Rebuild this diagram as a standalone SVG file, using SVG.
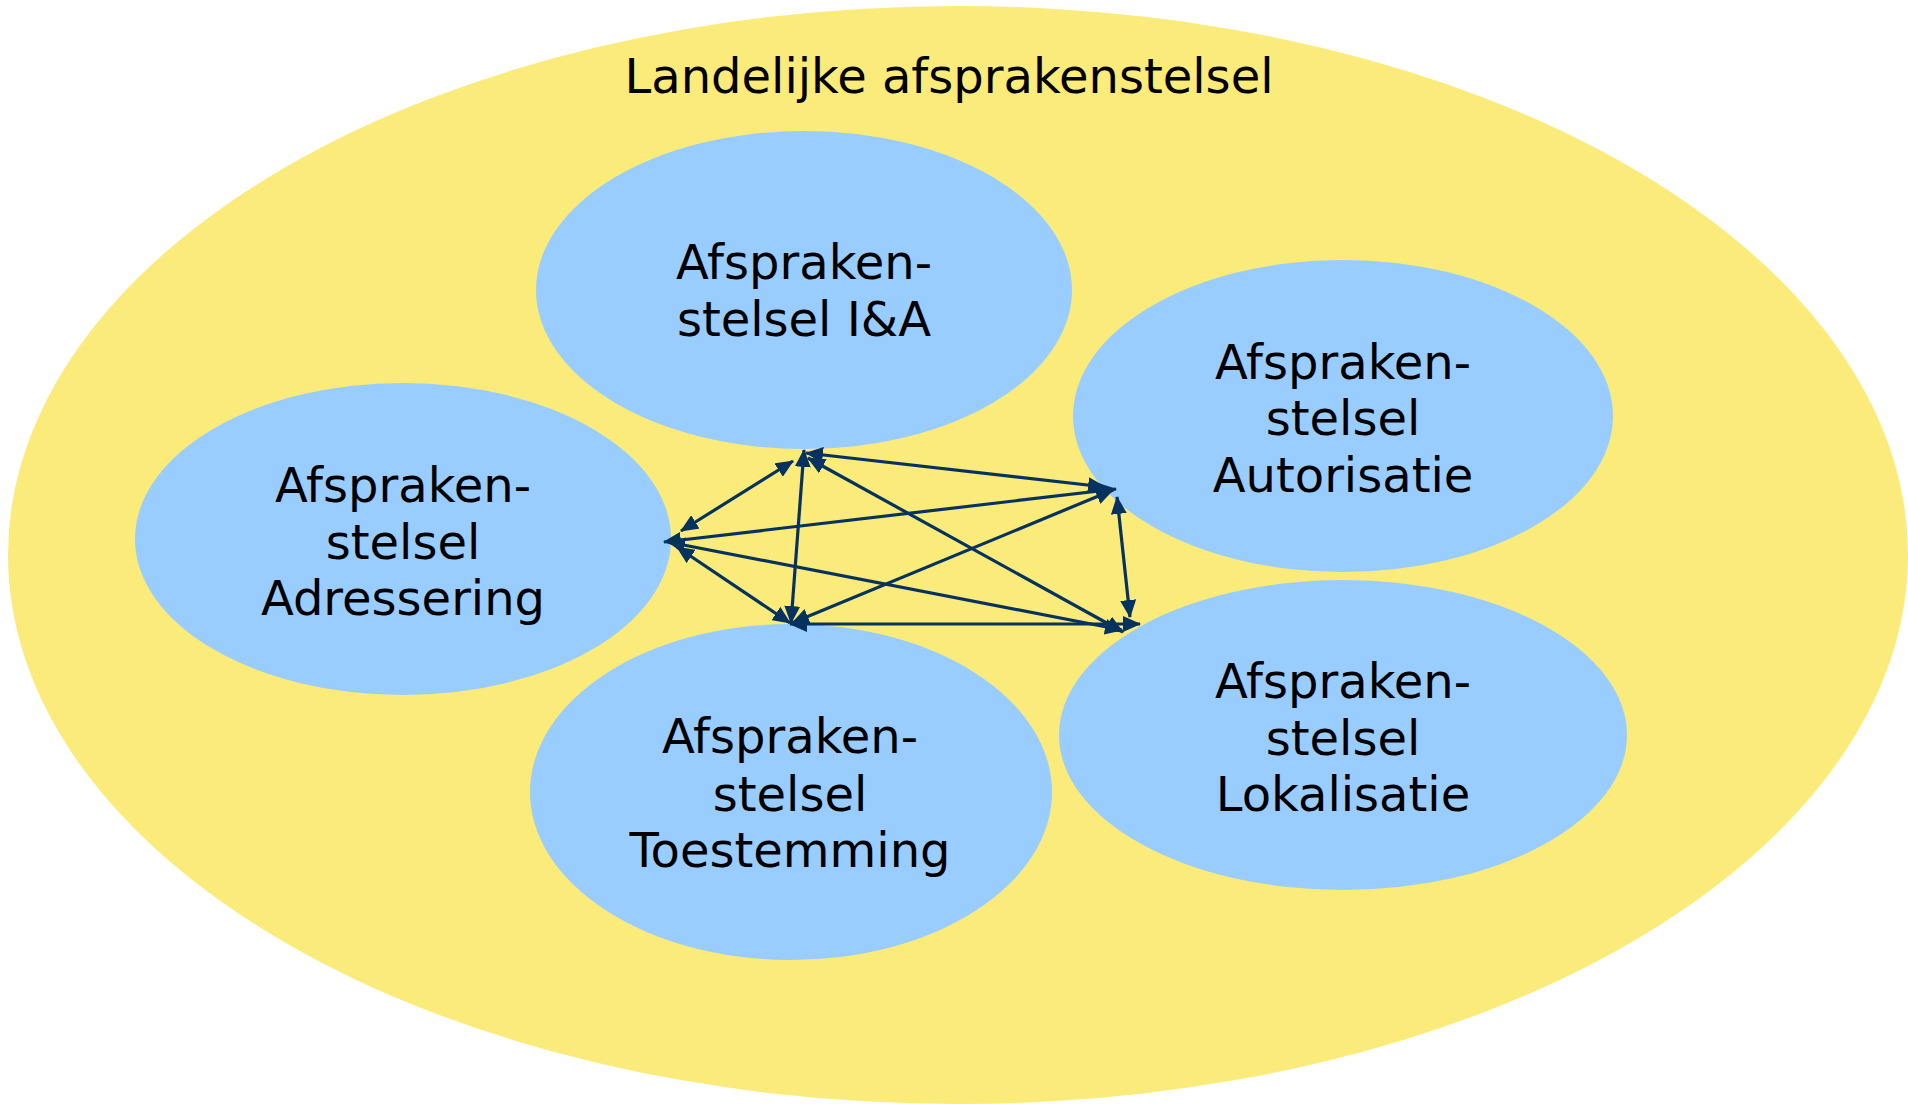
<svg xmlns="http://www.w3.org/2000/svg" width="1908" height="1104" viewBox="0 0 1908 1104">
<style>
.outer{fill:#FAEB7A}
.node{fill:#99CCFF}
.lbl{font-family:"DejaVu Sans","Verdana",sans-serif;font-size:48px;fill:#000;text-anchor:middle}
.conn{stroke:#06325F;stroke-width:3.2;fill:none;marker-start:url(#ah);marker-end:url(#ah)}
</style>
<defs>
<marker id="ah" viewBox="0 0 18 16" refX="17" refY="8" markerWidth="18" markerHeight="16" markerUnits="userSpaceOnUse" orient="auto-start-reverse">
<path d="M0,0 L18,8 L0,16 z" fill="#06325F"/>
</marker>
</defs>
<rect width="1908" height="1104" fill="#FFFFFF"/>
<g id="landelijk">
<ellipse class="outer" cx="958" cy="555" rx="950" ry="549"/>
<text class="lbl" x="949" y="93">Landelijke afsprakenstelsel</text>
</g>
<g id="node-ia">
<ellipse class="node" cx="804" cy="290" rx="268" ry="159"/>
<text class="lbl" x="804" y="279">Afspraken-</text>
<text class="lbl" x="804" y="336">stelsel I&amp;A</text>
</g>
<g id="node-autorisatie">
<ellipse class="node" cx="1343" cy="416" rx="270" ry="156"/>
<text class="lbl" x="1343" y="379">Afspraken-</text>
<text class="lbl" x="1343" y="435">stelsel</text>
<text class="lbl" x="1343" y="492">Autorisatie</text>
</g>
<g id="node-adressering">
<ellipse class="node" cx="403" cy="539" rx="268" ry="156"/>
<text class="lbl" x="403" y="502">Afspraken-</text>
<text class="lbl" x="403" y="559">stelsel</text>
<text class="lbl" x="403" y="615">Adressering</text>
</g>
<g id="node-toestemming">
<ellipse class="node" cx="791" cy="792" rx="261" ry="168"/>
<text class="lbl" x="790" y="753">Afspraken-</text>
<text class="lbl" x="790" y="811">stelsel</text>
<text class="lbl" x="790" y="867">Toestemming</text>
</g>
<g id="node-lokalisatie">
<ellipse class="node" cx="1343" cy="735" rx="284" ry="155"/>
<text class="lbl" x="1343" y="698">Afspraken-</text>
<text class="lbl" x="1343" y="755">stelsel</text>
<text class="lbl" x="1343" y="811">Lokalisatie</text>
</g>
<g id="connectors">
<line class="conn" x1="681" y1="531" x2="793" y2="461"/>
<line class="conn" x1="806" y1="453" x2="1105" y2="487"/>
<line class="conn" x1="804" y1="450" x2="791" y2="623"/>
<line class="conn" x1="808" y1="458" x2="1123" y2="632"/>
<line class="conn" x1="664" y1="542" x2="1116" y2="489"/>
<line class="conn" x1="677" y1="547" x2="790" y2="623"/>
<line class="conn" x1="668" y1="542" x2="1122" y2="630"/>
<line class="conn" x1="1113" y1="490" x2="792" y2="623"/>
<line class="conn" x1="1117" y1="497" x2="1130" y2="617"/>
<line class="conn" x1="790" y1="624" x2="1140" y2="624"/>
</g>
</svg>
